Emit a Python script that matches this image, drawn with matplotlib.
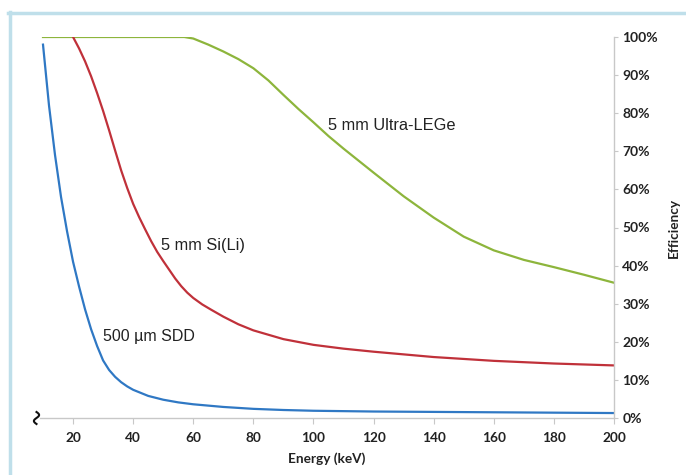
import numpy as np
import matplotlib
matplotlib.use("Agg")
import matplotlib.pyplot as plt
from matplotlib.lines import Line2D

# ---- data ----
ge_energy = [10, 20, 30, 40, 50, 57, 60, 65, 70, 75, 80, 85, 90, 95, 100, 105, 110,
             120, 130, 140, 150, 160, 170, 180, 190, 200]
ge_eff = [100, 100, 100, 100, 100, 100, 99.6, 98.0, 96.2, 94.2, 91.8, 88.6, 84.8,
          81.1, 77.6, 74.0, 70.7, 64.4, 58.2, 52.6, 47.6, 44.0, 41.5, 39.6, 37.6, 35.5]

si_energy = [20, 22, 24, 26, 28, 30, 32, 34, 36, 38, 40, 42, 44, 46, 48, 50, 52, 54,
             56, 58, 60, 63, 66, 70, 75, 80, 90, 100, 110, 120, 140, 160, 180, 200]
si_eff = [100, 97.0, 93.6, 89.7, 85.3, 80.6, 75.5, 70.2, 65.0, 60.4, 56.2, 52.7,
          49.5, 46.4, 43.6, 41.2, 38.9, 36.6, 34.6, 32.9, 31.5, 29.8, 28.4, 26.6,
          24.6, 23.0, 20.7, 19.2, 18.2, 17.4, 16.0, 15.0, 14.3, 13.8]

sdd_energy = [10, 12, 14, 16, 18, 20, 22, 24, 26, 28, 30, 32, 34, 36, 38, 40, 45, 50,
              55, 60, 70, 80, 90, 100, 120, 140, 160, 180, 200]
sdd_eff = [98, 82, 69, 58, 49, 41, 34.5, 28.5, 23.3, 18.9, 15.1, 12.6, 10.8, 9.4,
           8.3, 7.4, 5.8, 4.8, 4.1, 3.6, 2.9, 2.4, 2.1, 1.9, 1.7, 1.6, 1.5, 1.4, 1.3]

x_ticks = [20, 40, 60, 80, 100, 120, 140, 160, 180, 200]
y_ticks = [0, 10, 20, 30, 40, 50, 60, 70, 80, 90, 100]
labels = ["5 mm Ultra-LEGe", "5 mm Si(Li)", "500 µm SDD"]

W, H = 686, 475
fig = plt.figure(figsize=(W / 100, H / 100), dpi=100)
fig.patch.set_facecolor("white")

left, right, top, bottom = 40, 614, 37, 418
ax = fig.add_axes([left / W, 1 - bottom / H, (right - left) / W, (bottom - top) / H])

green = "#8db53c"
red = "#c0313a"
blue = "#2f78c4"

ax.plot(ge_energy, ge_eff, color=green, lw=1.6, solid_joinstyle="round")
ax.plot(si_energy, si_eff, color=red, lw=1.6, solid_joinstyle="round")
ax.plot(sdd_energy, sdd_eff, color=blue, lw=1.6, solid_joinstyle="round")

ax.set_xlim(9, 200)
ax.set_ylim(0, 100)

for s in ["left", "top"]:
    ax.spines[s].set_visible(False)
for s in ["bottom", "right"]:
    ax.spines[s].set_color("#c8c8c8")
    ax.spines[s].set_linewidth(1.0)

tick_font = "Lato"
ax.set_xticks(x_ticks)
ax.set_xticklabels([str(v) for v in x_ticks], fontweight="bold", fontsize=9.8,
                   family=tick_font, color="#222222")
ax.yaxis.tick_right()
ax.set_yticks(y_ticks)
ax.set_yticklabels([f"{v}%" for v in y_ticks], fontweight="bold", fontsize=10,
                   family=tick_font, color="#222222")
ax.tick_params(axis="x", direction="out", length=4, color="#c8c8c8", pad=6)
ax.tick_params(axis="y", direction="out", length=3, color="#c8c8c8", pad=3)

ax.set_xlabel("Energy (keV)", fontweight="bold", fontsize=9.8, family=tick_font,
              color="#222222", labelpad=6)
ax.yaxis.set_label_position("right")
ax.set_ylabel("Efficiency", fontweight="bold", fontsize=9.8, family=tick_font,
              color="#222222", labelpad=7)

ann_font = "Liberation Sans"
ax.text(104.8, 76.9, labels[0], fontsize=11.8, family=ann_font, color="#222222",
        va="center", ha="left")
ax.text(49.3, 45.4, labels[1], fontsize=11.8, family=ann_font, color="#222222",
        va="center", ha="left")
ax.text(30.0, 21.5, labels[2], fontsize=11.5, family=ann_font, color="#222222",
        va="center", ha="left")

# light blue frame (left and top edges)
frame_c = "#bfdfea"
fig.add_artist(Line2D([9.5 / W, 9.5 / W], [0, 1 - 12 / H], transform=fig.transFigure,
                      color=frame_c, lw=2.5))
fig.add_artist(Line2D([8.3 / W, 1], [1 - 12.5 / H, 1 - 12.5 / H], transform=fig.transFigure,
                      color=frame_c, lw=2.5))

# axis break squiggle
t = np.linspace(0, 1, 40)
sx = 36.5 + 2.6 * np.sin(2 * np.pi * t)
sy = 412 + 12 * t
fig.add_artist(Line2D(sx / W, 1 - sy / H, transform=fig.transFigure, color="#111111", lw=1.5))

fig.savefig("out.png", dpi=100, facecolor="white")
